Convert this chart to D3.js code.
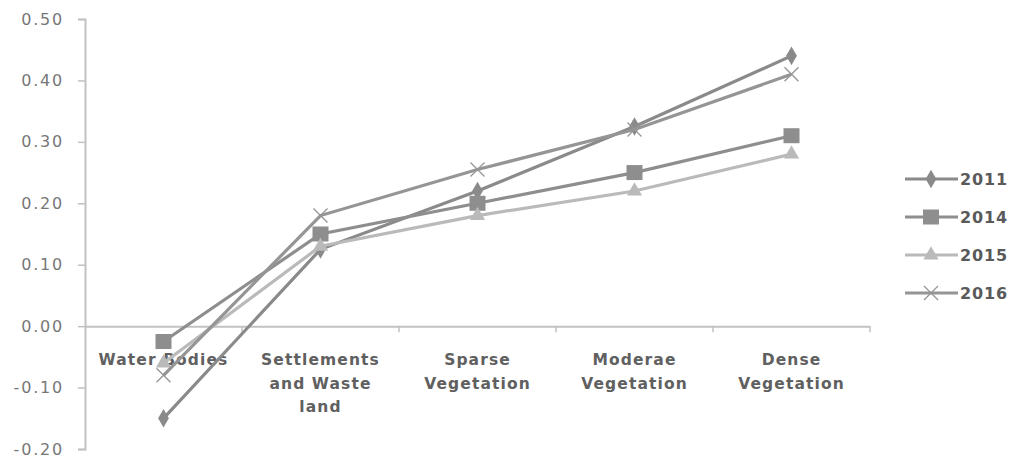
<!DOCTYPE html>
<html lang="en">
<head>
<meta charset="utf-8" />
<title>Index by land cover class</title>
<script src="https://d3js.org/d3.v7.min.js"></script>
<style>
  html, body { margin: 0; padding: 0; background: #fff; }
  svg text { font-family: "DejaVu Sans", sans-serif; }
  .tick-label { fill: #777; font-size: 16px; letter-spacing: 1.8px; }
  .cat-label { fill: #606060; font-size: 15.5px; font-weight: bold; letter-spacing: 1.1px; }
  .legend-label { fill: #5a5a5a; font-size: 16px; font-weight: bold; letter-spacing: 0.9px; }
</style>
</head>
<body>
<script>
// categories (multi-line labels)
const categories = ["Water Bodies", "Settlements and Waste land", "Sparse Vegetation", "Moderae Vegetation", "Dense Vegetation"];
const categoryLines = [["Water Bodies"], ["Settlements", "and Waste", "land"], ["Sparse", "Vegetation"], ["Moderae", "Vegetation"], ["Dense", "Vegetation"]];

// series values
const years = ["2011", "2014", "2015", "2016"];
const v2011 = [-0.15, 0.125, 0.22, 0.325, 0.44];
const v2014 = [-0.025, 0.15, 0.20, 0.25, 0.31];
const v2015 = [-0.06, 0.13, 0.18, 0.22, 0.28];
const v2016 = [-0.08, 0.18, 0.255, 0.32, 0.41];

const yTicks = [-0.20, -0.10, 0.00, 0.10, 0.20, 0.30, 0.40, 0.50];

const seriesList = [
  { name: "2011", values: v2011, color: "#8a8a8a", marker: "diamond" },
  { name: "2014", values: v2014, color: "#8e8e8e", marker: "square" },
  { name: "2015", values: v2015, color: "#bababa", marker: "triangle" },
  { name: "2016", values: v2016, color: "#959595", marker: "x" }
];

const width = 1013, height = 460;
const svg = d3.select("body").append("svg")
  .attr("width", width).attr("height", height);

const x = d3.scaleBand().domain(categories).range([85, 870]);
const y = d3.scaleLinear().domain([-0.2, 0.5]).range([449, 19]);

const axisColor = "#c2c2c2";

// y axis
const yAxis = svg.append("g")
  .attr("transform", "translate(85,0)")
  .call(d3.axisLeft(y).tickValues(yTicks).tickSize(7).tickPadding(14)
    .tickFormat(d => d3.format(".2f")(d).replace("\u2212", "-")));
yAxis.select(".domain").attr("stroke", axisColor).attr("stroke-width", 2);
yAxis.selectAll(".tick line").attr("stroke", axisColor).attr("stroke-width", 1.5);
yAxis.selectAll(".tick text").attr("class", "tick-label").attr("font-size", null).attr("font-family", null);

// x axis at zero
const xAxis = svg.append("g")
  .attr("transform", `translate(0,${y(0)})`)
  .call(d3.axisBottom(x).tickSize(0).tickFormat(""));
xAxis.select(".domain").attr("stroke", axisColor).attr("stroke-width", 2);
xAxis.selectAll(".tick").remove();
// category boundary ticks
const bounds = categories.map(c => x(c)).concat([x(categories[categories.length - 1]) + x.bandwidth()]);
svg.append("g").selectAll("line").data(bounds.slice(1)).join("line")
  .attr("x1", d => d).attr("x2", d => d)
  .attr("y1", y(0)).attr("y2", y(0) + 6)
  .attr("stroke", axisColor).attr("stroke-width", 1.5);

// category labels
const catG = svg.append("g");
categoryLines.forEach((lines, i) => {
  const t = catG.append("text").attr("class", "cat-label")
    .attr("text-anchor", "middle")
    .attr("x", x(categories[i]) + x.bandwidth() / 2)
    .attr("y", 365);
  lines.forEach((ln, j) => {
    t.append("tspan").attr("x", x(categories[i]) + x.bandwidth() / 2)
      .attr("dy", j === 0 ? 0 : 23.5).text(ln);
  });
});

const cx = (i) => x(categories[i]) + x.bandwidth() / 2;

function drawMarker(g, type, color, px, py) {
  if (type === "diamond") {
    g.append("path").attr("d", d3.symbol(d3.symbolDiamond, 100)())
      .attr("transform", `translate(${px},${py})`).attr("fill", color);
  } else if (type === "square") {
    g.append("rect").attr("x", px - 8).attr("y", py - 7.5).attr("width", 16).attr("height", 15)
      .attr("fill", color);
  } else if (type === "triangle") {
    g.append("path").attr("d", d3.symbol(d3.symbolTriangle, 100)())
      .attr("transform", `translate(${px},${py})`).attr("fill", color);
  } else {
    g.append("path").attr("d", `M${px - 7},${py - 7}L${px + 7},${py + 7}M${px - 7},${py + 7}L${px + 7},${py - 7}`)
      .attr("stroke", color).attr("stroke-width", 1.3).attr("fill", "none");
  }
}

const line = d3.line().x((d, i) => cx(i)).y(d => y(d));

seriesList.forEach(s => {
  const g = svg.append("g");
  g.append("path").datum(s.values).attr("d", line)
    .attr("fill", "none").attr("stroke", s.color).attr("stroke-width", 3.2);
  s.values.forEach((v, i) => drawMarker(g, s.marker, s.color, cx(i), y(v)));
});

// legend
const legendY = d3.scalePoint().domain(years).range([179, 293]);
const legend = svg.append("g");
seriesList.forEach(s => {
  const ly = legendY(s.name);
  legend.append("line").attr("x1", 905).attr("x2", 958).attr("y1", ly).attr("y2", ly)
    .attr("stroke", s.color).attr("stroke-width", 3.2);
  drawMarker(legend, s.marker, s.color, 931, ly);
  legend.append("text").attr("class", "legend-label")
    .attr("x", 960).attr("y", ly).attr("dy", "0.36em").text(s.name);
});
</script>
</body>
</html>
